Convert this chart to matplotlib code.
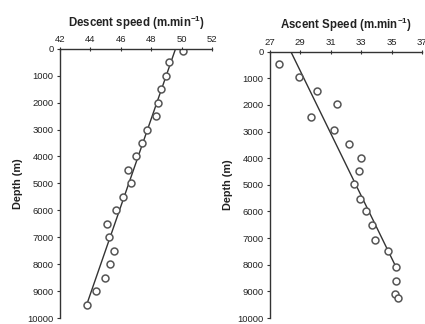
import numpy as np
import matplotlib
matplotlib.use('Agg')
import matplotlib.pyplot as plt

plt.rcParams['font.family'] = ['Liberation Sans', 'DejaVu Sans']
plt.rcParams['mathtext.fontset'] = 'custom'
plt.rcParams['mathtext.rm'] = 'Liberation Sans:bold'
plt.rcParams['mathtext.bf'] = 'Liberation Sans:bold'

# descent data (speed m/min vs depth m)
desc_depth = [100, 500, 1000, 1500, 2000, 2500, 3000, 3500, 4000, 4500,
              5000, 5500, 6000, 6500, 7000, 7500, 8000, 8500, 9000, 9500]
desc_speed = [50.07, 49.17, 48.95, 48.67, 48.43, 48.32, 47.75, 47.42, 47.0, 46.5,
              46.67, 46.12, 45.68, 45.11, 45.2, 45.53, 45.29, 44.96, 44.35, 43.8]
desc_fit_depth = [0, 9600]
desc_fit_speed = [49.6, 43.7]

# ascent data
asc_depth = [450, 960, 1460, 1960, 2460, 2950, 3480, 3980, 4480, 4970,
             5530, 5990, 6490, 7080, 7490, 8080, 8600, 9090, 9250]
asc_speed = [27.61, 28.91, 30.07, 31.39, 29.68, 31.2, 32.18, 33.0, 32.88, 32.55,
             32.95, 33.3, 33.71, 33.88, 34.74, 35.3, 35.3, 35.23, 35.43]
asc_fit_depth = [0, 8180]
asc_fit_speed = [28.38, 35.37]

fig = plt.figure(figsize=(4.25, 3.24), dpi=100)
ax1 = fig.add_axes([0.141, 0.0185, 0.358, 0.831])
ax2 = fig.add_axes([0.635, 0.0185, 0.358, 0.822])

panels = [
    (ax1, desc_speed, desc_depth, desc_fit_speed, desc_fit_depth, 42, 52,
     'Descent speed (m.min$^{-1}$)'),
    (ax2, asc_speed, asc_depth, asc_fit_speed, asc_fit_depth, 27, 37,
     'Ascent Speed (m.min$^{-1}$)'),
]

for ax, sp, dp, fs, fd, lo, hi, title in panels:
    ax.plot(fs, fd, color='#333333', lw=1.0)
    ax.plot(sp, dp, 'o', mfc='white', mec='#555555', mew=1.1, ms=5)
    ax.set_xlim(lo, hi)
    ax.set_ylim(10000, 0)
    ax.set_xticks(np.arange(lo, hi + 1, 2))
    ax.set_yticks(np.arange(0, 10001, 1000))
    ax.xaxis.tick_top()
    ax.xaxis.set_label_position('top')
    ax.set_xlabel(title, fontsize=8.3, fontweight='bold', labelpad=6,
                  color='#222222')
    ax.set_ylabel('Depth (m)', fontsize=7.8, fontweight='bold', labelpad=3,
                  color='#222222')
    for s in ['right', 'bottom']:
        ax.spines[s].set_visible(False)
    for s in ['left', 'top']:
        ax.spines[s].set_color('#333333')
        ax.spines[s].set_linewidth(1.0)
    ax.tick_params(axis='both', labelsize=6.8, length=2.5, width=0.8,
                   color='#333333', labelcolor='#222222', pad=2)
    ax.tick_params(axis='x', direction='inout', length=3)
    ax.patch.set_alpha(0)

fig.savefig('out.png', dpi=100)
